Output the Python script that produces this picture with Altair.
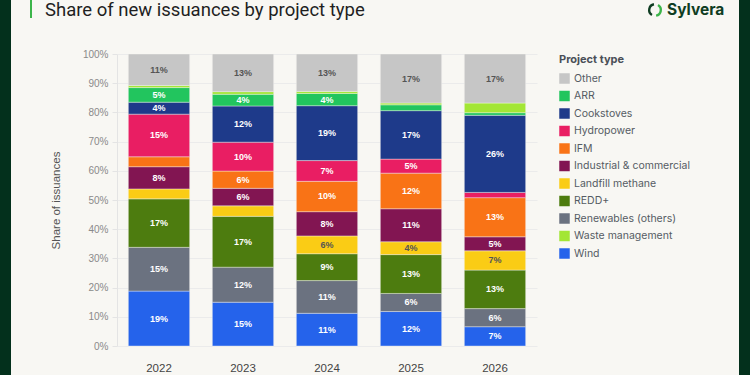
import altair as alt
import pandas as pd

years = ["2022", "2023", "2024", "2025", "2026"]
# stacking order bottom -> top
stack_types = ["Wind", "Renewables (others)", "REDD+", "Landfill methane",
               "Industrial & commercial", "IFM", "Hydropower", "Cookstoves",
               "ARR", "Waste management", "Other"]
wind        = [18.8, 15.0, 11.2, 11.8, 6.6]
renewables  = [15.0, 12.0, 11.2, 6.2, 6.2]
redd        = [16.6, 17.4, 9.2, 13.3, 13.2]
landfill    = [3.4, 3.6, 6.1, 4.4, 6.6]
industrial  = [7.6, 6.0, 8.3, 11.3, 4.8]
ifm         = [3.4, 5.9, 10.4, 12.2, 13.4]
hydropower  = [14.6, 9.9, 7.1, 4.8, 1.8]
cookstoves  = [4.1, 12.4, 18.8, 16.6, 26.4]
arr         = [5.0, 4.0, 4.2, 2.0, 0.9]
waste       = [0.7, 0.9, 0.7, 0.6, 3.3]
other       = [10.8, 12.9, 12.8, 16.8, 16.8]
series = [wind, renewables, redd, landfill, industrial, ifm, hydropower,
          cookstoves, arr, waste, other]

legend_order = ["Other", "ARR", "Cookstoves", "Hydropower", "IFM",
                "Industrial & commercial", "Landfill methane", "REDD+",
                "Renewables (others)", "Waste management", "Wind"]
legend_colors = ["#c6c6c6", "#22c55e", "#1e3a8a", "#e91e63", "#f97316",
                 "#821552", "#facc15", "#4d7c0f", "#6b7280", "#a3e635", "#2563eb"]
y_ticks = list(range(0, 101, 10))

rows = []
for i, (t, vals) in enumerate(zip(stack_types, series)):
    for y, v in zip(years, vals):
        rows.append({"year": y, "type": t, "value": v, "order": i})
df = pd.DataFrame(rows)

BG = "#f8f7f3"
DARK = "#03301c"

y_axis = alt.Axis(values=y_ticks,
                  labelExpr="datum.value + '%'",
                  labelOverlap=False,
                  labelColor="#8a8a8a", labelFontSize=10,
                  labelFont="Liberation Sans", labelPadding=4,
                  tickSize=5, tickColor="#e4e4e4",
                  domainColor="#e4e4e4", gridColor="#ebebeb",
                  titleColor="#555", titleFontSize=11.5,
                  titleFontWeight="normal", titleFont="Liberation Sans",
                  titleX=-56, titleY=146)

base = alt.Chart(df).transform_stack(
    stack="value", groupby=["year"], as_=["y0", "y1"],
    sort=[alt.SortField("order", order="ascending")]
)

bars = base.mark_bar(stroke=BG, strokeWidth=0.4).encode(
    x=alt.X("year:N", title=None,
            scale=alt.Scale(paddingInner=0.27, paddingOuter=0.135),
            axis=alt.Axis(labelAngle=0, ticks=False, domain=False, labelPadding=16,
                          labelColor="#444", labelFontSize=11.5,
                          labelFont="Liberation Sans")),
    y=alt.Y("y0:Q", title="Share of issuances",
            scale=alt.Scale(domain=[0, 100], nice=False),
            axis=y_axis),
    y2="y1:Q",
    color=alt.Color("type:N",
                    scale=alt.Scale(domain=legend_order, range=legend_colors),
                    legend=alt.Legend(title="Project type", orient="none",
                                      legendX=442, legendY=0,
                                      symbolType="square", symbolSize=110,
                                      symbolStrokeWidth=0,
                                      titleFont="Inter", titleFontSize=11,
                                      titleColor="#4a4f57", titleFontWeight="bold",
                                      titlePadding=8,
                                      labelFont="Inter", labelFontSize=10.5,
                                      labelColor="#555b63", rowPadding=6.5,
                                      labelLimit=200)),
)

labels = base.transform_filter("datum.value >= 3.8").transform_calculate(
    mid="(datum.y0 + datum.y1) / 2",
    lab="round(datum.value) + '%'",
).mark_text(font="Liberation Sans", fontSize=9, fontWeight="bold").encode(
    x="year:N",
    y=alt.Y("mid:Q", title="Share of issuances", axis=y_axis),
    text="lab:N",
    color=alt.condition(
        "datum.type === 'Other' || datum.type === 'Landfill methane'",
        alt.value("#555555"), alt.value("#ffffff")),
)

one = pd.DataFrame({"a": [0]})

left_frame = alt.Chart(one).mark_rect(color=DARK).encode(
    x=alt.value(-117), x2=alt.value(-106), y=alt.value(-54), y2=alt.value(321))
right_frame = alt.Chart(one).mark_rect(color=DARK).encode(
    x=alt.value(622), x2=alt.value(633), y=alt.value(-54), y2=alt.value(321))
accent = alt.Chart(one).mark_rect(color="#3cb54a").encode(
    x=alt.value(-87), x2=alt.value(-85), y=alt.value(-54), y2=alt.value(-36))
title = alt.Chart(one).mark_text(
    text="Share of new issuances by project type", align="left",
    baseline="middle", font="Roboto", fontSize=18.5, color="#1f1f1f").encode(
    x=alt.value(-72), y=alt.value(-44))
logo_text = alt.Chart(one).mark_text(
    text="Sylvera", align="left", baseline="middle", font="Inter",
    fontSize=15.5, fontWeight="bold", color="#0f3d22").encode(
    x=alt.value(550), y=alt.value(-44))
ring_dark = alt.Chart(one).mark_arc(
    radius=7, radius2=4.6, theta=3.7, theta2=6.1, color="#0f3d22").encode(
    x=alt.value(538), y=alt.value(-44))
ring_green = alt.Chart(one).mark_arc(
    radius=7, radius2=4.6, theta=0.55, theta2=2.95, color="#3cb54a").encode(
    x=alt.value(538), y=alt.value(-44))

chart = alt.layer(
    bars, labels, left_frame, right_frame, accent, title, logo_text,
    ring_dark, ring_green
).properties(
    width=420, height=292,
    autosize=alt.AutoSizeParams(type="none"),
    padding={"left": 117, "top": 54, "right": 213, "bottom": 29},
    background=BG,
).configure_view(stroke=None).configure_axis(labelOverlap=False)

chart.save("out.html", embed_options={"renderer": "svg", "actions": False})
